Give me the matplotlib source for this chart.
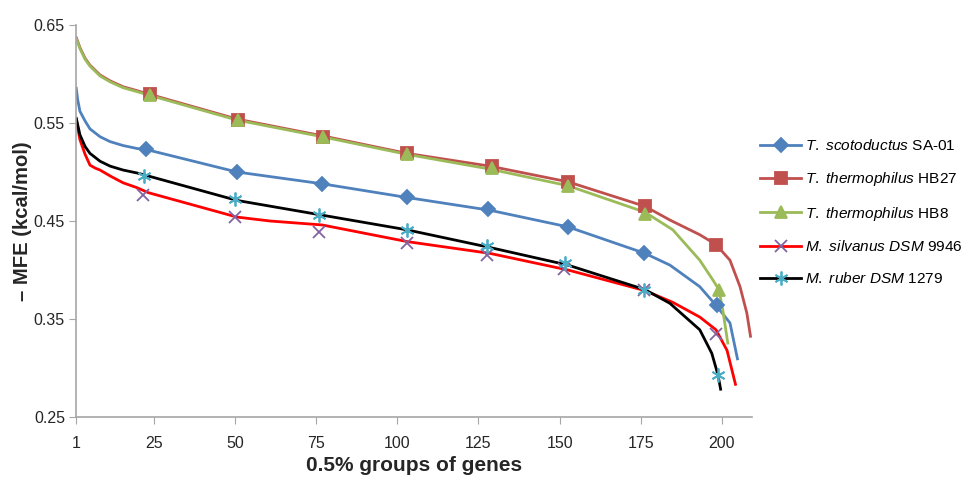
import matplotlib
matplotlib.use("Agg")
import matplotlib.pyplot as plt
from matplotlib.lines import Line2D

plt.rcParams['font.family'] = ['Liberation Sans', 'DejaVu Sans']
plt.rcParams['mathtext.fontset'] = 'custom'
plt.rcParams['mathtext.rm'] = 'Liberation Sans'
plt.rcParams['mathtext.it'] = 'Liberation Sans:italic'

# Line data (curves)
scoto_x = [1, 1.5, 2.2, 3.8, 5.3, 8.4, 11.5, 15.5, 19.8, 23.8, 50.6, 76.8, 103.0, 128.5, 152.6, 176.3, 184.0, 193.2, 198.2, 202.5, 204.9]
scoto_y = [0.587, 0.574, 0.562, 0.552, 0.544, 0.536, 0.531, 0.527, 0.524, 0.522, 0.500, 0.488, 0.474, 0.461, 0.444, 0.417, 0.405, 0.383, 0.364, 0.346, 0.308]

hb27_x = [1, 2.2, 3.8, 5.3, 8.4, 11.5, 15.5, 19.8, 22.9, 50.6, 76.8, 103.0, 128.5, 152.6, 176.3, 184.0, 193.2, 198.2, 202.5, 205.6, 207.7, 208.9]
hb27_y = [0.638, 0.627, 0.616, 0.609, 0.599, 0.593, 0.587, 0.583, 0.580, 0.554, 0.537, 0.519, 0.506, 0.490, 0.465, 0.451, 0.436, 0.426, 0.410, 0.383, 0.356, 0.331]

hb8_x = [1, 2.2, 3.8, 5.3, 8.4, 11.5, 15.5, 19.8, 22.9, 50.6, 76.8, 103.0, 128.5, 152.6, 176.3, 184.9, 193.2, 197.2, 199.1, 200.3, 201.9]
hb8_y = [0.637, 0.626, 0.615, 0.608, 0.598, 0.592, 0.586, 0.582, 0.579, 0.553, 0.536, 0.518, 0.503, 0.486, 0.459, 0.441, 0.410, 0.390, 0.380, 0.359, 0.324]

silv_x = [1, 2.2, 3.8, 5.3, 6.9, 8.4, 11.5, 15.5, 19.8, 23.2, 50.6, 60.8, 76.8, 103.0, 128.5, 152.6, 176.3, 184.9, 193.2, 198.2, 201.6, 204.3]
silv_y = [0.555, 0.533, 0.518, 0.507, 0.504, 0.502, 0.496, 0.489, 0.484, 0.479, 0.454, 0.450, 0.446, 0.429, 0.417, 0.400, 0.379, 0.367, 0.352, 0.339, 0.318, 0.282]

ruber_x = [1, 2.2, 3.8, 5.3, 8.4, 11.5, 15.5, 19.8, 23.2, 50.6, 76.8, 103.0, 128.5, 152.6, 176.3, 184.0, 193.2, 196.9, 198.8, 199.7]
ruber_y = [0.556, 0.538, 0.526, 0.519, 0.511, 0.506, 0.502, 0.499, 0.496, 0.471, 0.456, 0.441, 0.423, 0.405, 0.380, 0.366, 0.339, 0.315, 0.293, 0.277]

# Marker data
scoto_mx = [22.6, 50.6, 76.8, 103.0, 127.9, 152.6, 176.0, 198.5]
scoto_my = [0.523, 0.500, 0.488, 0.474, 0.462, 0.444, 0.417, 0.364]
hb27_mx = [23.8, 50.9, 77.1, 103.0, 129.2, 152.6, 176.3, 198.2]
hb27_my = [0.580, 0.553, 0.536, 0.519, 0.506, 0.490, 0.465, 0.426]
hb8_mx = [23.8, 50.9, 77.1, 103.0, 129.2, 152.6, 176.3, 199.1]
hb8_my = [0.579, 0.553, 0.536, 0.518, 0.504, 0.486, 0.457, 0.380]
silv_mx = [21.6, 50.0, 75.9, 103.0, 127.6, 151.3, 176.0, 198.2]
silv_my = [0.477, 0.454, 0.439, 0.428, 0.415, 0.401, 0.380, 0.335]
ruber_mx = [21.9, 50.0, 75.9, 103.0, 127.6, 151.6, 176.0, 198.8]
ruber_my = [0.496, 0.472, 0.456, 0.441, 0.425, 0.407, 0.380, 0.293]

labels = [r'$\mathit{T.}$ $\mathit{scotoductus}$ SA-01',
          r'$\mathit{T.}$ $\mathit{thermophilus}$ HB27',
          r'$\mathit{T.}$ $\mathit{thermophilus}$ HB8',
          r'$\mathit{M.}$ $\mathit{silvanus}$ $\mathit{DSM}$ 9946',
          r'$\mathit{M.}$ $\mathit{ruber}$ $\mathit{DSM}$ 1279']

x_ticks = [1, 25, 50, 75, 100, 125, 150, 175, 200]
y_ticks = [0.25, 0.35, 0.45, 0.55, 0.65]

asterisk = (6, 2, 0)
series = [
    (scoto_x, scoto_y, scoto_mx, scoto_my, '#4F81BD', '#4F81BD', 'D', 7),
    (hb27_x, hb27_y, hb27_mx, hb27_my, '#C0504D', '#C0504D', 's', 9),
    (hb8_x, hb8_y, hb8_mx, hb8_my, '#9BBB59', '#9BBB59', '^', 9),
    (silv_x, silv_y, silv_mx, silv_my, '#FF0000', '#8064A2', 'x', 9),
    (ruber_x, ruber_y, ruber_mx, ruber_my, '#000000', '#4BACC6', asterisk, 10),
]

fig = plt.figure(figsize=(9.66, 4.79), dpi=100)
ax = fig.add_axes([0.0787, 0.1294, 0.6998, 0.8184])

handles = []
for lx, ly, mx, my, lc, mc, mk, ms in series:
    ax.plot(lx, ly, color=lc, lw=2.0, solid_capstyle='butt',
            solid_joinstyle='round', zorder=2)
    ax.plot(mx, my, ls='none', marker=mk, markersize=ms, color=mc,
            markeredgecolor=mc, markeredgewidth=1.3, zorder=3)
    handles.append(Line2D([], [], color=lc, lw=2.0, marker=mk, markersize=ms,
                          markerfacecolor=mc, markeredgecolor=mc, markeredgewidth=1.3))

ax.set_xlim(1, 209.3)
ax.set_ylim(0.25, 0.65)
ax.set_xticks(x_ticks)
ax.set_yticks(y_ticks)
ax.set_yticklabels(['%.2f' % v for v in y_ticks])
ax.tick_params(axis='both', direction='out', length=5, color='#A6A6A6',
               labelsize=11.5, labelcolor='#262626', pad=3)
ax.tick_params(axis='x', pad=9)
for side in ['top', 'right']:
    ax.spines[side].set_visible(False)
for side in ['left', 'bottom']:
    ax.spines[side].set_color('#A6A6A6')
    ax.spines[side].set_linewidth(1.2)

ax.set_xlabel('0.5% groups of genes', fontsize=15, fontweight='bold', color='#262626', labelpad=3)
ax.set_ylabel('– MFE (kcal/mol)', fontsize=14.6, fontweight='bold', color='#262626', labelpad=1)

fig.legend(handles, labels, loc='center left', bbox_to_anchor=(0.787, 0.557),
           frameon=False, fontsize=11.1, handlelength=2.65, labelspacing=1.08,
           handletextpad=0.25, borderpad=0, borderaxespad=0)

fig.savefig('out.png', dpi=100)
